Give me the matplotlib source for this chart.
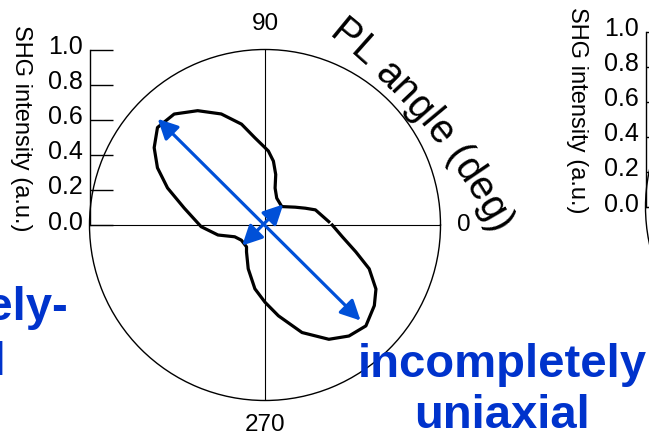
import numpy as np
import matplotlib
matplotlib.use("Agg")
from matplotlib import pyplot as plt
from matplotlib.ft2font import FT2Font
from matplotlib.font_manager import findfont, FontProperties
from matplotlib.transforms import ScaledTranslation

plt.rcParams['font.family'] = ['Liberation Sans', 'DejaVu Sans']

# SHG polar pattern (angle in deg, intensity in a.u.)
angle_deg = [3.0, 16.7, 22.6, 30.5, 47.7, 66.4, 74.7, 78.0, 82.5, 87.4,
             91.2, 96.6, 103.1, 111.5, 120.5, 129.3, 137.8, 145.1, 152.0,
             159.2, 168.2, 181.5, 192.0, 201.3, 212.7, 229.8, 235.5, 249.0,
             261.0, 270.0, 278.4, 289.0, 299.2, 307.1, 315.0, 323.6, 330.0,
             337.2, 343.5, 351.3, 360.0]
shg = [0.364, 0.30, 0.249, 0.20, 0.142, 0.167, 0.218, 0.294, 0.367, 0.422,
       0.45, 0.50, 0.59, 0.68, 0.756, 0.817, 0.827, 0.77, 0.694,
       0.594, 0.47, 0.364, 0.274, 0.185, 0.16, 0.163, 0.186, 0.267,
       0.368, 0.44, 0.523, 0.648, 0.746, 0.793, 0.813, 0.774, 0.73,
       0.644, 0.54, 0.446, 0.383]

# arrows: (angle deg, r) of both tips
major_axis = [(135.3, 0.86), (315.0, 0.77)]
minor_axis = [(222.0, 0.175), (48.4, 0.157)]

r_ticks = [0.0, 0.2, 0.4, 0.6, 0.8, 1.0]
theta_labels = {90: ('90', 1.145), 0: ('0', 1.13), 270: ('270', 1.14)}

W, H = 649, 437
BLUE_TXT = '#0033cc'
BLUE_ARR = '#0050d8'
R = 175.5

fig = plt.figure(figsize=(W / 100, H / 100), dpi=100)


def polar_panel(cx, cy, with_data):
    ax = fig.add_axes([(cx - R) / W, (H - cy - R) / H, 2 * R / W, 2 * R / H],
                      projection='polar')
    ax.set_rlim(0, 1)
    ax.set_yticks([])
    ax.set_xticks(np.deg2rad([0, 90, 180, 270]))
    ax.set_xticklabels([])
    ax.grid(True, color='black', lw=0.8)
    ax.spines['polar'].set_linewidth(1.0)
    ax.patch.set_alpha(0)

    if with_data:
        th = np.deg2rad(angle_deg)
        ax.plot(th, shg, color='black', lw=2.3, solid_joinstyle='round')
        for (a1, r1), (a2, r2) in [major_axis, minor_axis]:
            ax.annotate('', xy=(np.deg2rad(a1), r1), xytext=(np.deg2rad(a2), r2),
                        arrowprops=dict(arrowstyle='<|-|>,head_length=0.6,head_width=0.3',
                                        color=BLUE_ARR, lw=2.3, shrinkA=0, shrinkB=0,
                                        mutation_scale=20))
        for a, (lab, rr) in theta_labels.items():
            ax.text(np.deg2rad(a), rr, lab, ha='center', va='center',
                    fontsize=17.5, clip_on=False)

    # straight radial intensity axis, tangent to the circle on the left
    axr = fig.add_axes([(cx - R) / W, (H - cy) / H, 30 / W, R / H])
    axr.set_ylim(0, 1)
    axr.set_xlim(0, 1)
    axr.patch.set_alpha(0)
    for s in ['top', 'right', 'bottom']:
        axr.spines[s].set_visible(False)
    axr.spines['left'].set_linewidth(1.0)
    axr.set_xticks([])
    axr.set_yticks(r_ticks)
    axr.set_yticklabels(['%.1f' % v for v in r_ticks])
    axr.tick_params(axis='y', direction='in', length=16.5, width=1.0,
                    labelsize=18, pad=5)
    off = ScaledTranslation(0, 5 / 100, fig.dpi_scale_trans)
    for lab in axr.get_yticklabels():
        lab.set_transform(lab.get_transform() + off)

    # axis title, left of the tick labels
    fig.text((cx - R - 68.5) / W, 1 - (cy - 97) / H, 'SHG intensity (a.u.)',
             rotation=270, fontsize=17, ha='center', va='center')
    return ax, axr


ax1, axr1 = polar_panel(265, 225, True)
ax2, axr2 = polar_panel(265 + 556, 225 - 18, False)


def arc_text(s, cx, cy, radius, phi_mid, fs):
    font = FT2Font(findfont(FontProperties(family='Liberation Sans')))
    font.set_size(fs, fig.dpi)
    advs = [font.load_char(ord(c)).linearHoriAdvance / 65536 for c in s]
    phi = np.deg2rad(phi_mid) + (sum(advs) / 2) / radius
    for c, a in zip(s, advs):
        pc = phi - (a / 2) / radius
        x = cx + radius * np.cos(pc)
        y = cy + radius * np.sin(pc)
        fig.text(x / W, y / H, c, rotation=np.rad2deg(pc) - 90,
                 rotation_mode='anchor', ha='center', va='baseline',
                 fontsize=fs)
        phi -= a / radius


arc_text('PL angle (deg)', -56, H - 524, 621, 39.8, 28.5)

fig.text(502 / W, 1 - 377 / H, 'incompletely', color=BLUE_TXT, fontsize=34,
         fontweight='bold', ha='center', va='baseline')
fig.text(502 / W, 1 - 428 / H, 'uniaxial', color=BLUE_TXT, fontsize=34,
         fontweight='bold', ha='center', va='baseline')
fig.text(68 / W, 1 - 320 / H, 'completely-', color=BLUE_TXT, fontsize=34,
         fontweight='bold', ha='right', va='baseline')
fig.text(6 / W, 1 - 375 / H, 'uniaxial', color=BLUE_TXT, fontsize=34,
         fontweight='bold', ha='right', va='baseline')

fig.savefig('out.png', dpi=100)
